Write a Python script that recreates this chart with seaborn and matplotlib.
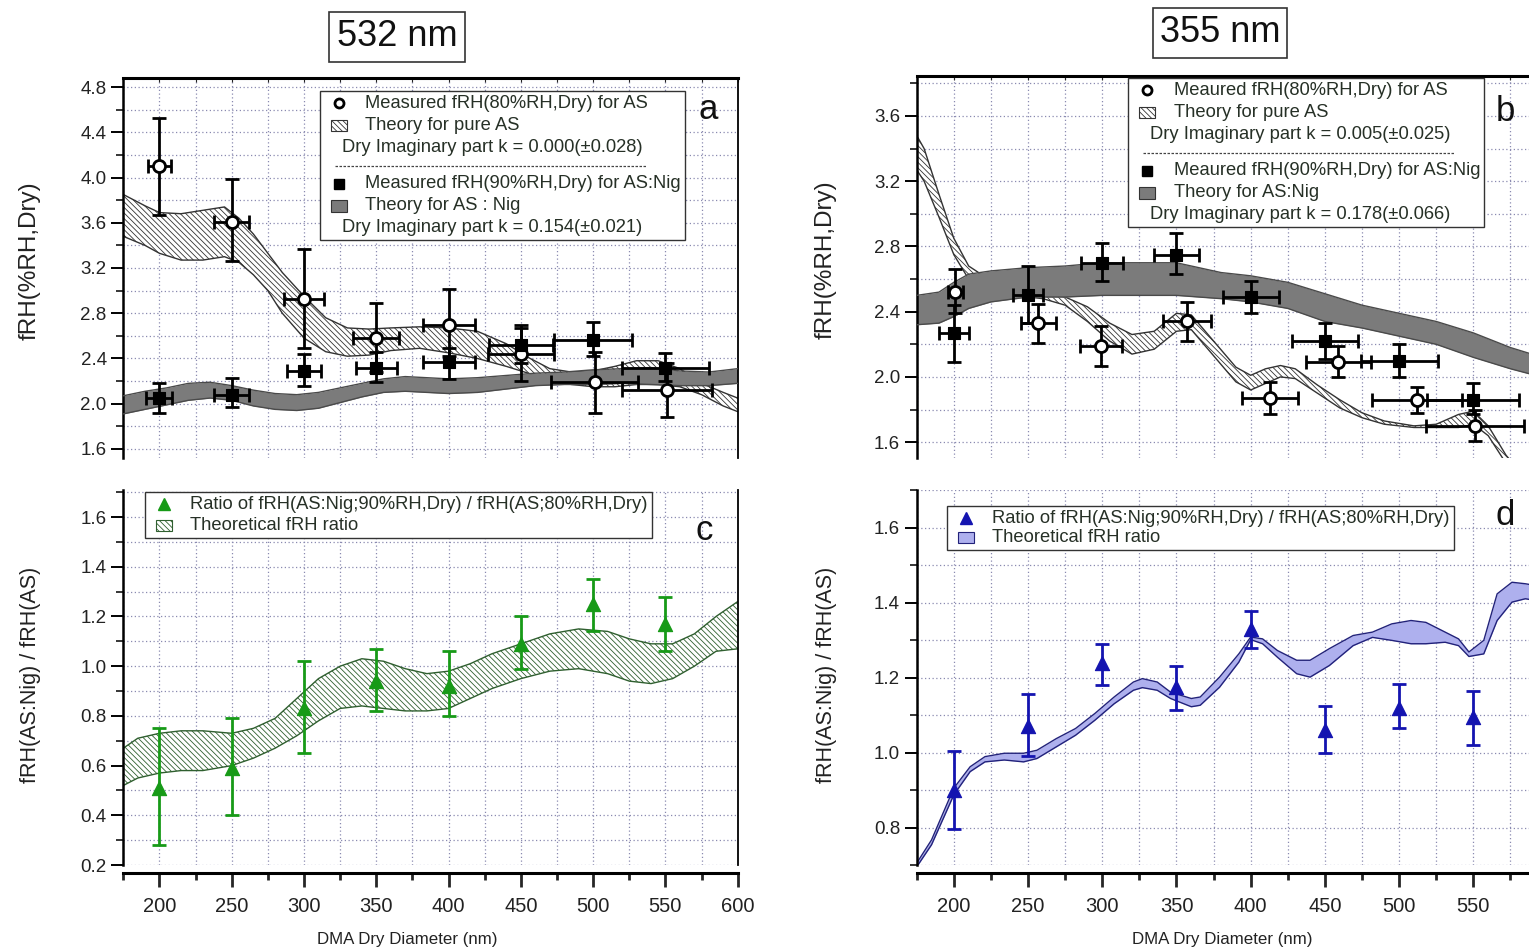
import numpy as np
import pandas as pd
import matplotlib
matplotlib.use("Agg")
import matplotlib.pyplot as plt
import seaborn as sns
from matplotlib.offsetbox import AnchoredOffsetbox, VPacker, HPacker, TextArea, DrawingArea
from matplotlib.patches import Rectangle
from matplotlib.lines import Line2D
from matplotlib.ticker import MultipleLocator, NullFormatter, FormatStrFormatter

sns.set_theme(style="ticks")
plt.rcParams["font.family"] = ["Liberation Sans", "DejaVu Sans"]
plt.rcParams["hatch.linewidth"] = 0.6

# ---------------- data ----------------
diam = [200, 250, 300, 350, 400, 450, 500, 550]

# 532 nm, measured
as532_x = [200, 250, 300, 350, 400, 450, 501, 551]
as532_y = [4.10, 3.61, 2.93, 2.58, 2.70, 2.44, 2.19, 2.12]
as532_lo = [3.67, 3.26, 2.49, 2.28, 2.42, 2.20, 1.92, 1.88]
as532_hi = [4.53, 3.99, 3.37, 2.89, 3.01, 2.70, 2.46, 2.36]
as532_xerr = [8, 12, 14, 16, 18, 23, 30, 31]

nig532_y = [2.05, 2.08, 2.29, 2.32, 2.37, 2.52, 2.56, 2.32]
nig532_lo = [1.92, 1.97, 2.16, 2.19, 2.22, 2.36, 2.42, 2.20]
nig532_hi = [2.18, 2.23, 2.44, 2.46, 2.49, 2.67, 2.72, 2.45]
nig532_xerr = [9, 12, 12, 14, 18, 22, 27, 30]

# 532 nm, theory bands
th_as532_x = [175, 190, 200, 215, 230, 245, 255, 265, 275, 285, 300, 315, 330, 345, 360,
              380, 400, 420, 440, 455, 470, 485, 500, 515, 530, 545, 560, 575, 590, 600]
th_as532_hi = [3.85, 3.75, 3.69, 3.68, 3.71, 3.74, 3.64, 3.50, 3.33, 3.16, 2.95, 2.76, 2.67, 2.66, 2.67,
               2.68, 2.67, 2.64, 2.53, 2.41, 2.31, 2.28, 2.29, 2.33, 2.38, 2.38, 2.31, 2.18, 2.10, 2.05]
th_as532_lo = [3.48, 3.40, 3.33, 3.27, 3.27, 3.30, 3.25, 3.14, 3.00, 2.80, 2.58, 2.46, 2.42, 2.43, 2.47,
               2.49, 2.45, 2.40, 2.33, 2.27, 2.21, 2.17, 2.15, 2.15, 2.17, 2.17, 2.15, 2.08, 1.98, 1.93]

th_nig532_x = [175, 190, 205, 220, 235, 250, 265, 280, 295, 310, 325, 340, 355, 370, 385,
               400, 420, 440, 460, 480, 500, 520, 540, 560, 580, 600]
th_nig532_hi = [2.07, 2.11, 2.14, 2.18, 2.19, 2.16, 2.12, 2.09, 2.08, 2.10, 2.14, 2.18, 2.22, 2.24, 2.23,
                2.22, 2.23, 2.25, 2.27, 2.28, 2.30, 2.31, 2.32, 2.29, 2.28, 2.31]
th_nig532_lo = [1.91, 1.95, 1.99, 2.03, 2.05, 2.03, 1.98, 1.95, 1.94, 1.96, 2.01, 2.06, 2.10, 2.11, 2.10,
                2.09, 2.10, 2.13, 2.16, 2.17, 2.17, 2.18, 2.17, 2.16, 2.16, 2.18]

# 355 nm, measured
as355_x = [201, 257, 299, 357, 413, 459, 512, 551]
as355_y = [2.52, 2.33, 2.19, 2.34, 1.87, 2.09, 1.86, 1.70]
as355_lo = [2.39, 2.21, 2.07, 2.22, 1.77, 2.00, 1.78, 1.61]
as355_hi = [2.66, 2.45, 2.31, 2.46, 1.97, 2.19, 1.94, 1.80]
as355_xerr = [5, 12, 14, 16, 19, 22, 30, 33]

nig355_y = [2.27, 2.50, 2.70, 2.75, 2.49, 2.22, 2.10, 1.86]
nig355_lo = [2.09, 2.33, 2.59, 2.63, 2.39, 2.11, 2.00, 1.77]
nig355_hi = [2.44, 2.68, 2.82, 2.88, 2.59, 2.33, 2.20, 1.96]
nig355_xerr = [10, 10, 14, 15, 19, 22, 26, 31]

# 355 nm, theory bands
th_as355_x = [175, 180, 190, 200, 210, 220, 240, 260, 275, 290, 305, 320, 335, 350, 360, 375,
              390, 400, 410, 420, 430, 445, 460, 475, 490, 510, 525, 540, 550, 560, 572, 585]
th_as355_hi = [3.48, 3.40, 3.12, 2.85, 2.68, 2.62, 2.56, 2.52, 2.49, 2.43, 2.33, 2.26, 2.28, 2.39, 2.38, 2.22,
               2.06, 2.01, 2.05, 2.07, 2.05, 1.95, 1.86, 1.78, 1.73, 1.70, 1.71, 1.77, 1.79, 1.70, 1.52, 1.38]
th_as355_lo = [3.27, 3.20, 2.98, 2.75, 2.60, 2.55, 2.50, 2.48, 2.44, 2.34, 2.22, 2.14, 2.17, 2.28, 2.29, 2.13,
               1.97, 1.92, 1.96, 2.00, 1.99, 1.90, 1.81, 1.75, 1.71, 1.69, 1.69, 1.69, 1.71, 1.64, 1.47, 1.33]

th_nig355_x = [175, 190, 200, 210, 225, 250, 275, 300, 325, 350, 365, 380, 400, 425, 450,
               475, 500, 525, 550, 575, 600]
th_nig355_hi = [2.50, 2.52, 2.58, 2.63, 2.65, 2.67, 2.68, 2.70, 2.70, 2.70, 2.67, 2.64, 2.62, 2.58, 2.51,
                2.44, 2.39, 2.34, 2.27, 2.18, 2.11]
th_nig355_lo = [2.32, 2.33, 2.37, 2.42, 2.46, 2.49, 2.49, 2.50, 2.50, 2.50, 2.49, 2.48, 2.46, 2.42, 2.34,
                2.30, 2.25, 2.20, 2.12, 2.05, 1.99]

# ratios
ratio532_y = [0.51, 0.59, 0.83, 0.94, 0.92, 1.09, 1.25, 1.17]
ratio532_lo = [0.28, 0.40, 0.65, 0.82, 0.80, 0.99, 1.14, 1.06]
ratio532_hi = [0.75, 0.79, 1.02, 1.07, 1.06, 1.20, 1.35, 1.28]

th_r532_x = [175, 185, 200, 215, 230, 250, 265, 280, 295, 310, 325, 340, 355, 370, 385, 400,
             415, 430, 450, 470, 490, 510, 525, 540, 555, 570, 585, 600]
th_r532_hi = [0.67, 0.71, 0.73, 0.74, 0.74, 0.73, 0.75, 0.79, 0.87, 0.95, 1.00, 1.03, 1.02, 0.99, 0.97, 0.98,
              1.01, 1.05, 1.09, 1.13, 1.15, 1.14, 1.11, 1.09, 1.09, 1.13, 1.20, 1.26]
th_r532_lo = [0.52, 0.55, 0.57, 0.58, 0.58, 0.60, 0.63, 0.67, 0.72, 0.78, 0.83, 0.84, 0.83, 0.82, 0.82, 0.83,
              0.87, 0.91, 0.95, 0.98, 0.99, 0.97, 0.94, 0.93, 0.95, 1.00, 1.06, 1.07]

ratio355_y = [0.90, 1.07, 1.24, 1.175, 1.33, 1.06, 1.12, 1.095]
ratio355_lo = [0.795, 0.99, 1.18, 1.114, 1.278, 0.999, 1.066, 1.021]
ratio355_hi = [1.005, 1.155, 1.29, 1.232, 1.377, 1.123, 1.182, 1.164]

th_r355_x = [175, 185, 200, 211, 221, 234, 247, 256, 269, 282, 295, 308, 321, 327, 337, 346, 360, 366, 379,
             392, 400, 408, 418, 431, 440, 453, 469, 482, 495, 508, 518, 531, 540, 547, 557, 566, 576, 585, 600]
th_r355_hi = [0.705, 0.767, 0.905, 0.962, 0.989, 0.998, 0.998, 1.006, 1.037, 1.064, 1.104, 1.148, 1.188, 1.197,
              1.188, 1.161, 1.144, 1.148, 1.201, 1.263, 1.308, 1.303, 1.272, 1.246, 1.246, 1.277, 1.312, 1.321,
              1.343, 1.352, 1.347, 1.321, 1.303, 1.268, 1.299, 1.423, 1.454, 1.450, 1.440]
th_r355_lo = [0.695, 0.754, 0.887, 0.949, 0.975, 0.980, 0.975, 0.984, 1.015, 1.046, 1.086, 1.130, 1.166, 1.173,
              1.166, 1.144, 1.122, 1.126, 1.174, 1.241, 1.301, 1.290, 1.254, 1.210, 1.201, 1.232, 1.285, 1.307,
              1.299, 1.290, 1.290, 1.294, 1.285, 1.256, 1.263, 1.352, 1.401, 1.410, 1.400]

x_labels_532 = [200, 250, 300, 350, 400, 450, 500, 550, 600]
x_labels_355 = [200, 250, 300, 350, 400, 450, 500, 550]

# ---------------- styling ----------------
W, H = 1529, 949
TXT = "#263026"
GRID = "#8a8ab0"
GREEN = "#179a17"
BLUE = "#1414b0"
HATCH = "\\" * 6

fig = plt.figure(figsize=(W / 100, H / 100), dpi=100)
fig.patch.set_facecolor("white")


def px_axes(x0, x1, y0, y1):
    return fig.add_axes([x0 / W, 1 - y1 / H, (x1 - x0) / W, (y1 - y0) / H])


ax_a = px_axes(123.3, 737.7, 78, 458)
ax_c = px_axes(123.3, 737.7, 490, 865)
ax_b = px_axes(916.7, 1547.6, 76, 458)
ax_d = px_axes(916.7, 1547.6, 490, 865)


def style_axes(ax, ylim, ymajor, yminor, bottom, xlabels=None):
    ax.set_facecolor("white")
    ax.set_xlim(175, 600)
    ax.set_ylim(*ylim)
    ax.xaxis.set_major_locator(MultipleLocator(50))
    ax.xaxis.set_minor_locator(MultipleLocator(25))
    ax.yaxis.set_major_locator(MultipleLocator(ymajor))
    ax.yaxis.set_minor_locator(MultipleLocator(yminor))
    ax.yaxis.set_major_formatter(FormatStrFormatter("%.1f"))
    ax.set_axisbelow(True)
    for which in ("major", "minor"):
        ax.grid(True, which=which, color=GRID, lw=0.9, ls=(0, (1, 2)))
    ax.tick_params(axis="y", which="major", direction="out", length=9, width=1.4,
                   labelsize=13.5, colors="black", labelcolor="#222222", pad=3)
    ax.tick_params(axis="y", which="minor", direction="out", length=5, width=1.3)
    for s in ax.spines.values():
        s.set_color("black")
    ax.spines["left"].set_linewidth(1.8)
    ax.spines["right"].set_linewidth(1.3)
    if bottom:
        ax.spines["top"].set_visible(False)
        ax.spines["bottom"].set_position(("outward", 6))
        ax.spines["bottom"].set_linewidth(2.2)
        ax.set_xticks(xlabels)
        ax.tick_params(axis="x", which="major", direction="out", length=10, width=2,
                       labelsize=14.5, labelcolor="#222222", pad=7)
        ax.tick_params(axis="x", which="minor", direction="out", length=5, width=2)
        ax.xaxis.set_minor_formatter(NullFormatter())
    else:
        ax.spines["bottom"].set_visible(False)
        ax.spines["top"].set_linewidth(2.2)
        ax.tick_params(axis="x", which="both", bottom=False, labelbottom=False,
                       top=True, direction="in", length=3, width=0.8)


def band(ax, x, lo, hi, face, edge, hatch=None, z=2.0):
    ax.fill_between(x, lo, hi, facecolor=face, edgecolor=edge, hatch=hatch,
                    linewidth=0, zorder=z)
    df = pd.DataFrame({"x": list(x) * 2, "y": list(lo) + list(hi),
                       "edge": ["lo"] * len(x) + ["hi"] * len(x)})
    sns.lineplot(data=df, x="x", y="y", units="edge", estimator=None, sort=False,
                 color=edge, lw=1.0, ax=ax, zorder=z + 0.1, legend=False)


def points(ax, x, y, lo, hi, xerr, marker, size, face, edge, ecolor, lw=2.0):
    y = np.asarray(y)
    yerr = [y - np.asarray(lo), np.asarray(hi) - y]
    ax.errorbar(x, y, yerr=yerr, xerr=xerr, fmt="none", ecolor=ecolor,
                elinewidth=lw, capsize=5, capthick=lw, zorder=5)
    df = pd.DataFrame({"d": x, "f": y})
    sns.scatterplot(data=df, x="d", y="f", marker=marker, s=size, color=face,
                    edgecolor=edge, linewidth=2 if face == "white" else 0.8,
                    ax=ax, zorder=6, legend=False)


def swatch(kind):
    da = DrawingArea(20, 11, 0, 0)
    cx, cy = 11, 5.5
    if kind == "circle":
        da.add_artist(Line2D([cx], [cy], marker="o", ms=6.5, mfc="white", mec="black", mew=2))
    elif kind == "square":
        da.add_artist(Line2D([cx], [cy], marker="s", ms=7, mfc="black", mec="black"))
    elif kind == "tri_green":
        da.add_artist(Line2D([cx], [cy], marker="^", ms=9, mfc=GREEN, mec=GREEN))
    elif kind == "tri_blue":
        da.add_artist(Line2D([cx], [cy], marker="^", ms=9, mfc=BLUE, mec=BLUE))
    else:
        face, edge, hatch = {"hatch": ("white", "#333333", HATCH),
                             "hatch_green": ("white", "#2f5f2f", HATCH),
                             "gray": ("#7b7b7b", "#333333", None),
                             "blue": ("#aeb0ee", "#22227a", None)}[kind]
        da.add_artist(Rectangle((5, 1.5), 12, 8, facecolor=face, edgecolor=edge,
                                hatch=hatch, lw=0.8))
    return da


def legend_box(ax, rows, anchor, fs=13.2, sep=3.0):
    tp = dict(color=TXT, fontsize=fs)
    kids = []
    for kind, label in rows:
        if kind == "sep":
            da = DrawingArea(label, 7, 0, 0)
            da.add_artist(Line2D([8, label], [3.5, 3.5], color="#444444", lw=0.9,
                                 ls=(0, (2, 1.2))))
            kids.append(da)
        elif kind == "text":
            kids.append(HPacker(children=[DrawingArea(13, 1), TextArea(label, textprops=tp)],
                                pad=0, sep=0, align="center"))
        else:
            kids.append(HPacker(children=[swatch(kind), TextArea(label, textprops=tp)],
                                pad=0, sep=10, align="center"))
    box = VPacker(children=kids, align="left", pad=0, sep=sep)
    anc = AnchoredOffsetbox(loc="upper left", child=box, pad=0.25, borderpad=0,
                            frameon=True, bbox_to_anchor=anchor,
                            bbox_transform=ax.transAxes)
    anc.patch.set_edgecolor("#333333")
    anc.patch.set_linewidth(1.0)
    anc.patch.set_facecolor("white")
    anc.set_zorder(10)
    ax.add_artist(anc)


# ---------------- panel a : 532 nm ----------------
style_axes(ax_a, (1.52, 4.88), 0.4, 0.2, bottom=False)
band(ax_a, th_as532_x, th_as532_lo, th_as532_hi, "white", "#333333", HATCH, z=2.0)
band(ax_a, th_nig532_x, th_nig532_lo, th_nig532_hi, "#7b7b7b", "#4a4a4a", None, z=2.5)
points(ax_a, as532_x, as532_y, as532_lo, as532_hi, as532_xerr, "o", 75, "white", "black", "black")
points(ax_a, diam, nig532_y, nig532_lo, nig532_hi, nig532_xerr, "s", 85, "black", "black", "black")
legend_box(ax_a, [("circle", "Measured fRH(80%RH,Dry) for AS"),
                  ("hatch", "Theory for pure AS"),
                  ("text", "Dry Imaginary part k = 0.000(\u00b10.028)"),
                  ("sep", 232),
                  ("square", "Measured fRH(90%RH,Dry) for AS:Nig"),
                  ("gray", "Theory for AS : Nig"),
                  ("text", "Dry Imaginary part k = 0.154(\u00b10.021)")],
           (0.32, 0.966), sep=3.6)

# ---------------- panel b : 355 nm ----------------
style_axes(ax_b, (1.503, 3.845), 0.4, 0.2, bottom=False)
band(ax_b, th_as355_x, th_as355_lo, th_as355_hi, "white", "#333333", HATCH, z=2.0)
band(ax_b, th_nig355_x, th_nig355_lo, th_nig355_hi, "#7b7b7b", "#4a4a4a", None, z=2.5)
points(ax_b, as355_x, as355_y, as355_lo, as355_hi, as355_xerr, "o", 75, "white", "black", "black")
points(ax_b, diam, nig355_y, nig355_lo, nig355_hi, nig355_xerr, "s", 85, "black", "black", "black")
legend_box(ax_b, [("circle", "Meaured fRH(80%RH,Dry) for AS"),
                  ("hatch", "Theory for pure AS"),
                  ("text", "Dry Imaginary part k = 0.005(\u00b10.025)"),
                  ("sep", 232),
                  ("square", "Meaured fRH(90%RH,Dry) for AS:Nig"),
                  ("gray", "Theory for AS:Nig"),
                  ("text", "Dry Imaginary part k = 0.178(\u00b10.066)")],
           (0.335, 0.995), sep=3.6)

# ---------------- panel c : 532 nm ratio ----------------
style_axes(ax_c, (0.2, 1.709), 0.2, 0.1, bottom=True, xlabels=x_labels_532)
band(ax_c, th_r532_x, th_r532_lo, th_r532_hi, "white", "#2f5f2f", HATCH, z=2.0)
points(ax_c, diam, ratio532_y, ratio532_lo, ratio532_hi, None, "^", 105, GREEN, GREEN, GREEN)
legend_box(ax_c, [("tri_green", "Ratio of fRH(AS:Nig;90%RH,Dry) / fRH(AS;80%RH,Dry)"),
                  ("hatch_green", "Theoretical fRH ratio")],
           (0.035, 0.995))

# ---------------- panel d : 355 nm ratio ----------------
style_axes(ax_d, (0.7, 1.7), 0.2, 0.1, bottom=True, xlabels=x_labels_355)
band(ax_d, th_r355_x, th_r355_lo, th_r355_hi, "#aeb0ee", "#22227a", None, z=2.0)
points(ax_d, diam, ratio355_y, ratio355_lo, ratio355_hi, None, "^", 105, BLUE, BLUE, BLUE)
legend_box(ax_d, [("tri_blue", "Ratio of fRH(AS:Nig;90%RH,Dry) / fRH(AS;80%RH,Dry)"),
                  ("blue", "Theoretical fRH ratio")],
           (0.048, 0.957), sep=1.5)

# ---------------- labels ----------------
for ax, lab, fs in ((ax_a, "fRH(%RH,Dry)", 17.5), (ax_b, "fRH(%RH,Dry)", 17.5),
                    (ax_c, "fRH(AS:Nig) / fRH(AS)", 15.5), (ax_d, "fRH(AS:Nig) / fRH(AS)", 15.5)):
    ax.set_ylabel(lab, fontsize=fs, color="#222222")
ax_a.yaxis.set_label_coords(-0.134, 0.52)
ax_b.yaxis.set_label_coords(-0.127, 0.52)
ax_c.yaxis.set_label_coords(-0.134, 0.507)
ax_d.yaxis.set_label_coords(-0.127, 0.507)
for ax in (ax_a, ax_b):
    ax.set_xlabel("")
for ax, xc in ((ax_c, 0.462), (ax_d, 0.484)):
    ax.set_xlabel("DMA Dry Diameter (nm)", fontsize=12.2, color="#222222")
    ax.xaxis.set_label_coords(xc, -0.178)

for ax, letter, pos in ((ax_a, "a", (0.952, 0.916)), (ax_b, "b", (0.9325, 0.906)),
                        (ax_c, "c", (0.946, 0.893)), (ax_d, "d", (0.9325, 0.933))):
    ax.text(*pos, letter, transform=ax.transAxes, fontsize=25, ha="center", va="center",
            color="#111111", zorder=11)

for xc, yc, title in ((397, 37, "532 nm"), (1220, 33, "355 nm")):
    fig.text(xc / W, 1 - yc / H, title, fontsize=26, ha="center", va="center", color="#111111",
             bbox=dict(boxstyle="square,pad=0.2", facecolor="white", edgecolor="#333333", lw=1.2))

fig.savefig("out.png", dpi=100)
